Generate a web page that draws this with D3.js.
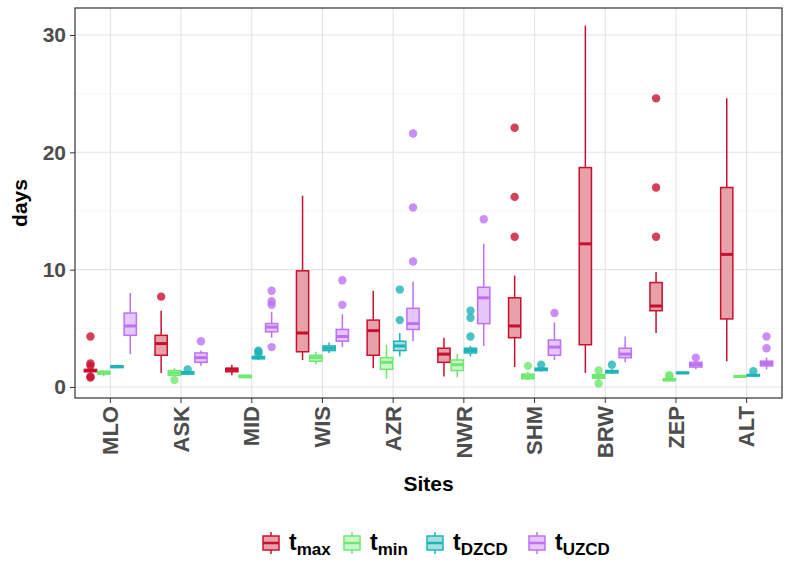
<!DOCTYPE html>
<html><head><meta charset="utf-8">
<script src="https://cdn.jsdelivr.net/npm/d3@7"></script>
<style>body{margin:0;background:#fff;font-family:"Liberation Sans",Arial,sans-serif}</style>
</head><body><svg id="chart" width="785" height="566"></svg>
<script>
const sites = ["MLO","ASK","MID","WIS","AZR","NWR","SHM","BRW","ZEP","ALT"];
const seriesNames = ["max","min","DZCD","UZCD"];
const strokes = ["#c8102e","#6ee86e","#1eb4b8","#be70f5"];
const fills = ["#e6a2a8","#ccf7cc","#a6dfe1","#e6c6fb"];
// per site: [lowWhisker, q1, median, q3, highWhisker]
const tmax = [[1.2,1.3,1.4,1.5,1.6],[1.2,2.7,3.7,4.4,6.5],[1.0,1.3,1.5,1.6,1.9],[2.3,3.0,4.6,9.9,16.3],[1.6,2.7,4.8,5.7,8.2],[0.9,2.1,2.8,3.3,4.2],[1.7,4.2,5.2,7.6,9.5],[1.2,3.6,12.2,18.7,30.8],[4.6,6.5,6.9,8.9,9.8],[2.2,5.8,11.3,17.0,24.6]];
const tmin = [[0.9,1.1,1.2,1.35,1.4],[0.9,1.0,1.2,1.4,1.6],[0.75,0.8,0.9,1.0,1.05],[1.9,2.2,2.5,2.7,3.0],[0.7,1.5,2.1,2.5,3.6],[0.8,1.4,1.9,2.3,2.8],[0.6,0.7,0.9,1.1,1.3],[0.5,0.75,0.9,1.05,1.2],[0.5,0.55,0.6,0.7,0.75],[0.8,0.85,0.9,0.95,1.0]];
const tdzcd = [[1.6,1.65,1.75,1.8,1.9],[1.0,1.1,1.2,1.3,1.4],[2.3,2.4,2.5,2.6,2.7],[2.9,3.1,3.3,3.5,3.8],[2.6,3.1,3.5,3.9,4.6],[2.6,2.9,3.1,3.3,3.5],[1.3,1.4,1.5,1.6,1.7],[1.1,1.2,1.3,1.4,1.5],[1.1,1.15,1.2,1.25,1.3],[0.9,0.95,1.0,1.05,1.1]];
const tuzcd = [[2.8,4.4,5.2,6.3,8.0],[1.8,2.1,2.5,2.9,3.1],[4.2,4.7,5.1,5.4,6.4],[3.4,3.9,4.3,4.9,6.2],[3.9,4.9,5.4,6.7,9.0],[3.5,5.4,7.6,8.5,12.2],[2.3,2.7,3.4,4.0,5.5],[2.1,2.5,2.8,3.3,4.3],[1.5,1.7,1.9,2.1,2.2],[1.5,1.8,2.0,2.2,2.5]];
const outMax = [[4.3,2.0,1.8,0.9,0.8],[7.7],[],[],[],[],[12.8,16.2,22.1],[],[12.8,17.0,24.6],[]];
const outMin = [[],[0.6],[],[],[],[],[1.8],[1.4,0.3],[1.0,0.9],[]];
const outDzcd = [[],[1.5],[2.8,3.0,3.1],[],[5.7,8.3],[4.3,5.9,6.5],[1.9],[1.9],[],[1.35]];
const outUzcd = [[],[3.9],[3.4,7.0,7.3,8.2],[7.0,9.1],[10.7,15.3,21.6],[14.3],[6.3],[],[2.5],[3.3,4.3]];
const yTicks = [0,10,20,30];

const stats = [tmax,tmin,tdzcd,tuzcd];
const outs = [outMax,outMin,outDzcd,outUzcd];
const svg = d3.select("#chart");
const m = {l:75,r:3,t:8,b:168};
const W = 785-m.l-m.r, H = 566-m.t-m.b;
const g = svg.append("g").attr("transform",`translate(${m.l},${m.t})`);
const x = d3.scaleBand().domain(sites).range([0,W]).padding(0);
const y = d3.scaleLinear().domain([-0.94,32.3]).range([H,0]);
const sub = d3.scaleBand().domain(d3.range(4)).range([-26,26]).paddingInner(0.08);
const cx = s => x(s)+x.bandwidth()/2;

// grid
[5,15,25].forEach(v=>g.append("line").attr("x1",0).attr("x2",W).attr("y1",y(v)).attr("y2",y(v)).attr("stroke","#f0f0f0").attr("stroke-width",0.6));
yTicks.forEach(v=>g.append("line").attr("x1",0).attr("x2",W).attr("y1",y(v)).attr("y2",y(v)).attr("stroke","#e3e3e3").attr("stroke-width",1.1));
sites.forEach(s=>g.append("line").attr("x1",cx(s)).attr("x2",cx(s)).attr("y1",0).attr("y2",H).attr("stroke","#e3e3e3").attr("stroke-width",1.1));

stats.forEach((ser,k)=>{
  sites.forEach((s,i)=>{
    const [lo,q1,md,q3,hi] = ser[i];
    const bx = cx(s)+sub(k), bw = sub.bandwidth(), mid = bx+bw/2;
    g.append("line").attr("x1",mid).attr("x2",mid).attr("y1",y(hi)).attr("y2",y(q3)).attr("stroke",strokes[k]).attr("stroke-width",1.5);
    g.append("line").attr("x1",mid).attr("x2",mid).attr("y1",y(q1)).attr("y2",y(lo)).attr("stroke",strokes[k]).attr("stroke-width",1.5);
    g.append("rect").attr("x",bx).attr("width",bw).attr("y",y(q3)).attr("height",Math.max(1,y(q1)-y(q3)))
      .attr("fill",fills[k]).attr("stroke",strokes[k]).attr("stroke-width",1.5);
    g.append("line").attr("x1",bx).attr("x2",bx+bw).attr("y1",y(md)).attr("y2",y(md)).attr("stroke",strokes[k]).attr("stroke-width",3);
    outs[k][i].forEach(v=>g.append("circle").attr("cx",mid).attr("cy",y(v)).attr("r",4.2).attr("fill",strokes[k]).attr("opacity",0.8));
  });
});

g.append("rect").attr("width",W).attr("height",H).attr("fill","none").attr("stroke","#333").attr("stroke-width",1.2);

const yAx = g.append("g").call(d3.axisLeft(y).tickValues(yTicks).tickSize(5).tickPadding(4));
yAx.select(".domain").remove();
yAx.selectAll("line").attr("stroke","#333");
yAx.selectAll("text").attr("font-size",21).attr("font-weight","bold").attr("fill","#4d4d4d");
const xAx = g.append("g").attr("transform",`translate(0,${H})`).call(d3.axisBottom(x).tickSize(5));
xAx.select(".domain").remove();
xAx.selectAll("line").attr("stroke","#333");
xAx.selectAll("text").attr("font-size",22).attr("font-weight","bold").attr("fill","#4d4d4d")
  .attr("transform","rotate(-90)").attr("text-anchor","end").attr("dy","0.35em").attr("x",-8).attr("y",0);

svg.append("text").attr("x",m.l+W/2).attr("y",491).attr("text-anchor","middle").attr("font-size",21).attr("font-weight","bold").text("Sites");
svg.append("text").attr("transform",`translate(27,${m.t+H/2}) rotate(-90)`).attr("text-anchor","middle").attr("font-size",21).attr("font-weight","bold").text("days");

// legend
const lg = svg.append("g").attr("transform","translate(262,533)");
const lx = [0,81,164,266];
seriesNames.forEach((n,k)=>{
  const it = lg.append("g").attr("transform",`translate(${lx[k]},0)`);
  it.append("line").attr("x1",9).attr("x2",9).attr("y1",-1).attr("y2",21).attr("stroke",strokes[k]).attr("stroke-width",1.5);
  it.append("rect").attr("x",1).attr("y",3).attr("width",16).attr("height",14).attr("fill",fills[k]).attr("stroke",strokes[k]).attr("stroke-width",1.5);
  it.append("line").attr("x1",1).attr("x2",17).attr("y1",10).attr("y2",10).attr("stroke",strokes[k]).attr("stroke-width",2.5);
  const t = it.append("text").attr("x",27).attr("y",17).attr("font-weight","bold").attr("font-size",23).text("t");
  t.append("tspan").attr("font-size",17).attr("dy",5).text(n);
});
</script></body></html>
